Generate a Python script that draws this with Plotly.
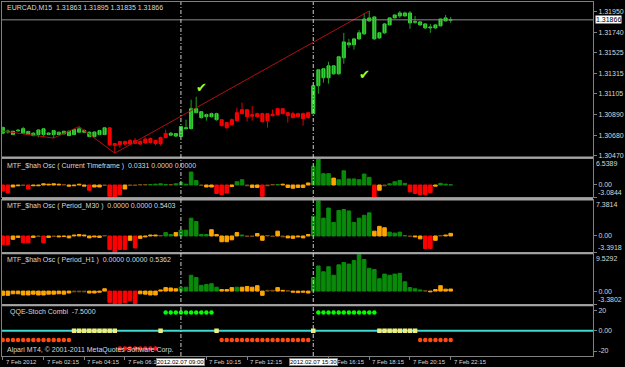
import plotly.graph_objects as go

# ---------------- data ----------------
symbol = "EURCAD,M15"

open_ = [
    1.30700, 1.30712, 1.30686, 1.30725, 1.30700, 1.30686, 1.30675, 1.30686, 1.30686, 1.30686,
    1.30686, 1.30686, 1.30693, 1.30675, 1.30686, 1.30710, 1.30710, 1.30665, 1.30665, 1.30686,
    1.30686, 1.30755, 1.30593, 1.30614, 1.30614, 1.30624, 1.30624, 1.30616, 1.30640, 1.30645,
    1.30624, 1.30655, 1.30696, 1.30680, 1.30670, 1.30665, 1.30747, 1.30747, 1.30911, 1.30860,
    1.30870, 1.30870, 1.30839, 1.30839, 1.30809, 1.30839, 1.30911, 1.30942, 1.30942, 1.30891,
    1.30901, 1.30901, 1.30901, 1.30895, 1.30952, 1.30952, 1.30911, 1.30901, 1.30901, 1.30901,
    1.30911, 1.30901, 1.31188, 1.31270, 1.31270, 1.31311, 1.31311, 1.31475, 1.31609, 1.31609,
    1.31670, 1.31722, 1.31855, 1.31670, 1.31680, 1.31732, 1.31814, 1.31886, 1.31906, 1.31906,
    1.31834, 1.31840, 1.31814, 1.31783, 1.31783, 1.31783, 1.31804, 1.31855, 1.31863]
high = [
    1.30765, 1.30737, 1.30725, 1.30745, 1.30765, 1.30725, 1.30710, 1.30740, 1.30750, 1.30710,
    1.30732, 1.30715, 1.30725, 1.30728, 1.30745, 1.30768, 1.30740, 1.30720, 1.30718, 1.30735,
    1.30765, 1.30765, 1.30600, 1.30620, 1.30624, 1.30640, 1.30650, 1.30625, 1.30650, 1.30655,
    1.30632, 1.30665, 1.30737, 1.30712, 1.30700, 1.30772, 1.30839, 1.31045, 1.31075, 1.30925,
    1.30901, 1.30911, 1.30911, 1.30845, 1.30815, 1.30850, 1.30962, 1.31014, 1.30950, 1.30980,
    1.30910, 1.30910, 1.30905, 1.30942, 1.30962, 1.30960, 1.30915, 1.30921, 1.30911, 1.30911,
    1.30921, 1.31195, 1.31360, 1.31370, 1.31435, 1.31400, 1.31495, 1.31732, 1.31670, 1.31680,
    1.31760, 1.31937, 1.31957, 1.31900, 1.31740, 1.31834, 1.31890, 1.31925, 1.31957, 1.31950,
    1.31957, 1.31906, 1.31855, 1.31830, 1.31824, 1.31820, 1.31880, 1.31916, 1.31895]
low = [
    1.30690, 1.30696, 1.30680, 1.30712, 1.30695, 1.30680, 1.30670, 1.30658, 1.30658, 1.30680,
    1.30650, 1.30680, 1.30688, 1.30670, 1.30680, 1.30705, 1.30700, 1.30660, 1.30655, 1.30680,
    1.30680, 1.30575, 1.30494, 1.30550, 1.30570, 1.30580, 1.30585, 1.30580, 1.30590, 1.30595,
    1.30575, 1.30573, 1.30645, 1.30670, 1.30660, 1.30660, 1.30737, 1.30740, 1.30905, 1.30850,
    1.30829, 1.30860, 1.30829, 1.30770, 1.30745, 1.30778, 1.30820, 1.30895, 1.30819, 1.30829,
    1.30860, 1.30810, 1.30757, 1.30875, 1.30885, 1.30895, 1.30809, 1.30855, 1.30865, 1.30778,
    1.30850, 1.30891, 1.31106, 1.31220, 1.31210, 1.31300, 1.31300, 1.31414, 1.31578, 1.31560,
    1.31660, 1.31710, 1.31845, 1.31660, 1.31670, 1.31722, 1.31810, 1.31880, 1.31886, 1.31900,
    1.31773, 1.31824, 1.31804, 1.31773, 1.31732, 1.31770, 1.31800, 1.31850, 1.31835]
close = [
    1.30760, 1.30722, 1.30720, 1.30732, 1.30747, 1.30718, 1.30700, 1.30733, 1.30745, 1.30702,
    1.30727, 1.30710, 1.30720, 1.30720, 1.30737, 1.30745, 1.30727, 1.30710, 1.30712, 1.30727,
    1.30755, 1.30580, 1.30575, 1.30583, 1.30588, 1.30588, 1.30596, 1.30588, 1.30600, 1.30604,
    1.30593, 1.30593, 1.30655, 1.30700, 1.30696, 1.30768, 1.30757, 1.30952, 1.30952, 1.30921,
    1.30891, 1.30901, 1.30901, 1.30778, 1.30757, 1.30788, 1.30829, 1.30901, 1.30870, 1.30875,
    1.30870, 1.30819, 1.30829, 1.30880, 1.30891, 1.30901, 1.30880, 1.30860, 1.30870, 1.30850,
    1.30860, 1.31188, 1.31352, 1.31363, 1.31393, 1.31393, 1.31486, 1.31639, 1.31629, 1.31670,
    1.31732, 1.31875, 1.31886, 1.31896, 1.31732, 1.31824, 1.31886, 1.31916, 1.31937, 1.31937,
    1.31937, 1.31848, 1.31845, 1.31824, 1.31793, 1.31814, 1.31875, 1.31886, 1.31866]

zigzag_bars = [0, 10, 15, 22, 72]
zigzag_prices = [1.30722, 1.30650, 1.30768, 1.30494, 1.31957]

signal_bars = [39, 71]
signal_prices = [1.31158, 1.31296]

price_ticks = [1.31950, 1.31740, 1.31525, 1.31315, 1.31105, 1.30890, 1.30680, 1.30470]
price_range = [1.304597, 1.320495]

# labels hidden under the 09:00 / 15:30 boxes in the reference are left out
time_tick_bars = [0, 8, 16, 24, 40, 48, 64, 72, 80, 88]
time_tick_labels = ["7 Feb 2012", "7 Feb 02:15", "7 Feb 04:15", "7 Feb 06:15",
                    "7 Feb 10:15", "7 Feb 12:15", "7 Feb 16:15", "7 Feb 18:15",
                    "7 Feb 20:15", "7 Feb 22:15"]

vline_bars = [35, 61]
vline_labels = ["2012.02.07 09:00", "2012.02.07 15:30"]

osc1_title = "MTF_$hah Osc ( Current Timeframe )  0.0331 0.0000 0.0000"
osc1_values = [
    -1.5, -2.0, -0.5, -0.2, -0.1, -1.0, -0.2, -0.2, 0.3, 0.2,
    0.3, 0.2, 0.1, -0.3, -0.2, 0.2, -0.3, -1.3, -0.5, -0.5,
    -0.1, -2.8, -3.0844, -2.4, -1.0, -0.1, -0.1, 0.1, 0.1, 0.1,
    0.2, 0.3, 0.1, 0.1, 0.3, 0.6, 0.2, 3.2, 1.1, -0.1,
    -0.5, -0.5, -2.1, -2.4, -2.0, -0.4, 0.8, 1.3, -0.2, -0.6,
    -0.6, -2.8, -0.2, 0.1, 0.1, 0.2, -0.6, -0.8, -0.6, -0.6,
    0.5, 4.6, 6.5389, 2.8, 2.8, 1.7, 1.3, 3.5, 1.5, 1.5,
    1.3, 2.7, 1.9, -3.0, -1.3, -0.2, 0.3, 0.8, 1.1, 0.4,
    -1.7, -2.1, -2.4, -2.4, -1.9, -0.3, 0.4, 0.2, 0.0331]
osc1_colors = ("RROOBROOOO" "OOBOOOOROO" "BRRROBBBBG" "GGGBGGGGGB" "OORRROGGBO"
               "ORBBGOOOOO" "OGGGGOGGGG" "GGGROBGGGG" "RRRRROGGG")

osc2_title = "MTF_$hah Osc ( Period_M30 )  0.0000 0.0000 0.5403"
osc2_values = [
    -1.8, -1.8, -0.7, -0.3, -1.4, -1.4, -0.3, -0.1, -1.4, -0.3,
    -0.1, -0.2, -0.1, -0.4, 0.2, 0.3, 0.2, -0.4, -0.2, -0.3,
    0.1, -2.8, -3.3918, -2.8, -2.8, -0.9, -2.5, -0.5, -0.2, 0.2,
    0.2, 0.1, 0.7, 0.3, 0.7, 1.2, 1.2, 3.7, 3.0, 0.3,
    0.3, 1.3, 0.3, -1.2, -1.2, -0.8, 0.7, 0.2, -0.1, -0.1,
    0.5, -0.9, 0.1, -0.1, 1.0, -0.2, -0.4, -0.5, -0.2, -0.4,
    0.3, 4.1, 7.3814, 3.7, 5.8, 2.8, 5.3, 5.5, 5.2, 2.8,
    3.7, 4.3, 4.8, 1.0, 2.0, 1.7, 0.8, 0.6, 0.8, 0.1,
    -0.1, -0.2, -0.6, -2.6, -2.6, -0.9, 0.1, 0.2, 0.5403]
osc2_colors = ("RROORROBRO" "BOOOOOOOOO" "BRRRROROOO" "OBGGOGGGGG" "GOOOOOOGBB"
               "OOBBOBOOOO" "OGGGGGGGGG" "GGGOOOGGGG" "BOORROBOO")

osc3_title = "MTF_$hah Osc ( Period_H1 )  0.0000 0.0000 0.5362"
osc3_values = [
    -1.1, -1.1, -0.7, -0.7, -1.0, -1.0, -0.8, -1.0, -1.0, -0.8,
    -0.8, -0.7, -0.8, -0.5, -0.2, -0.2, -0.2, -0.5, -0.5, -0.3,
    0.6, -2.9, -3.3802, -3.2, -3.0, -2.5, -3.2, -0.7, -0.8, -1.0,
    -1.0, 0.3, 0.9, 0.8, 0.6, 1.0, 1.0, 4.1, 3.5, 1.5,
    1.7, 1.9, 1.0, 0.4, 0.4, 0.9, 1.0, 1.0, 1.2, 1.0,
    1.4, -1.1, 0.2, 0.2, 0.9, 0.2, 0.1, -0.3, -0.4, -0.3,
    -0.5, 3.5, 6.5, 5.0, 6.3, 4.1, 6.8, 7.4, 7.0, 7.9,
    9.5292, 8.2, 5.9, 5.6, 3.2, 4.4, 4.1, 4.4, 4.6, 2.4,
    0.9, 0.6, 0.3, 0.1, -0.2, 0.4, 1.4, 0.5, 0.5362]
osc3_colors = ("OOOOOOOOOO" "OOOOBBBOOO" "ORRRRRROOO" "OOOOOGGGGG" "GGGOOOGOOO"
               "OOBBOOBOOO" "OGGGGGGGGG" "GGGGGGGGGG" "GGGBOOOOO")

qqe_title = "QQE-Stoch Combi  -7.5000"
qqe_state = ("OOOOOOOOOOOOOO" "YYYYYYYYY" "RRRRRRRR" "Y" "GGGGGGGGGG" "Y"
             "OOOOOOOOOOOOOOOOOO" "Y" "GGGGGGGGGGGG" "YYYYYYYY" "OOOOOOO")
qqe_levels = {"G": 18.0, "Y": 0.0, "O": -9.0, "R": -17.5}
qqe_ticks = [20, 0, -20]
qqe_range = [-24.9, 24.3]
copyright_text = "Alpari MT4, \u00a9 2001-2011 MetaQuotes Software Corp."

# ---------------- styling / geometry ----------------
FONT = "Liberation Sans, Arial, sans-serif"
FS = 7
FS_TIME = 6
TXT = "#d8d8d8"
FRAME = "#808080"
W, H = 625, 367
ML, MR, MT, MB = 1, 26, 1, 11
PW, PH = W - ML - MR, H - MT - MB
BOTTOM = H - MB
SP, X0 = 5.15, 1.8
xr = [(ML - X0) / SP, (ML - X0) / SP + PW / SP]


def dom(top, bot):
    return [(BOTTOM - bot) / PH, (BOTTOM - top) / PH]


def py(p):
    return (BOTTOM - p) / PH


panels = [(1, 156), (158, 197), (200, 252), (254, 304), (306, 356)]
osc_cmap = {"R": "#ff0000", "O": "#ffa500", "G": "#0a8a0a", "B": "#7a4e14"}

n = len(close)
bars = list(range(n))
fig = go.Figure()

# candles: wicks
for up, col in [(True, "#1f9f1f"), (False, "#e00000")]:
    xs, ys = [], []
    for i in bars:
        if (close[i] >= open_[i]) == up:
            xs += [i, i, None]
            ys += [low[i], high[i], None]
    fig.add_trace(go.Scatter(x=xs, y=ys, mode="lines", line=dict(color=col, width=1),
                             xaxis="x", yaxis="y", hoverinfo="skip"))
# candles: bodies
for up, col in [(True, "#36d636"), (False, "#ff0000")]:
    idx = [i for i in bars if (close[i] >= open_[i]) == up]
    fig.add_trace(go.Bar(x=idx, base=[min(open_[i], close[i]) for i in idx],
                         y=[abs(close[i] - open_[i]) for i in idx], width=0.6,
                         marker=dict(color=col, line=dict(color=col, width=1)),
                         xaxis="x", yaxis="y"))
# zigzag
fig.add_trace(go.Scatter(x=zigzag_bars, y=zigzag_prices, mode="lines",
                         line=dict(color="#b01010", width=1), xaxis="x", yaxis="y"))
# signal checks
fig.add_trace(go.Scatter(x=signal_bars, y=signal_prices, mode="text", text=["\u2714"] * len(signal_bars),
                         textfont=dict(color="#9cff20", size=13), xaxis="x", yaxis="y"))

# oscillators
for k, (vals, cols) in enumerate([(osc1_values, osc1_colors), (osc2_values, osc2_colors),
                                   (osc3_values, osc3_colors)], start=2):
    cc = [osc_cmap[c] for c in cols]
    fig.add_trace(go.Bar(x=bars, y=vals, width=0.7,
                         marker=dict(color=cc, line=dict(color=cc, width=1)),
                         xaxis="x%d" % k, yaxis="y%d" % k))

# QQE dots
for st, col, sym in [("G", "#00ff00", "circle"), ("Y", "#eeee80", "square"),
                     ("O", "#ff4a10", "circle"), ("R", "#ff1010", "circle")]:
    xs = [i for i in bars if qqe_state[i] == st]
    fig.add_trace(go.Scatter(x=xs, y=[qqe_levels[st]] * len(xs), mode="markers",
                             marker=dict(color=col, size=4.5, symbol=sym, line=dict(width=0)),
                             xaxis="x5", yaxis="y5"))

tf = dict(family=FONT, size=FS, color=TXT)

# axes
lay = {}
for k, (t, b) in enumerate(panels, start=1):
    sx = "" if k == 1 else str(k)
    lay["xaxis" + sx] = dict(domain=[0, 1], range=xr, anchor="y" + sx, showgrid=False, zeroline=False,
                             showticklabels=False, showline=True, linecolor=FRAME, linewidth=1,
                             mirror=True, ticks="", fixedrange=True)
    lay["yaxis" + sx] = dict(domain=dom(t, b), anchor="x" + sx, side="right", showgrid=False,
                             zeroline=False, showline=True, linecolor=FRAME, linewidth=1, mirror=True,
                             ticks="outside", ticklen=3, tickcolor=FRAME, tickfont=tf, fixedrange=True)
lay["xaxis5"].update(ticks="outside", tickvals=time_tick_bars, ticklen=3, tickcolor=FRAME)
lay["yaxis"].update(range=price_range, tickvals=price_ticks, ticktext=["%.5f" % v for v in price_ticks])

ann = []
for k, vals in [(2, osc1_values), (3, osc2_values), (4, osc3_values)]:
    lo, hi = min(vals), max(vals)
    lay["yaxis%d" % k].update(range=[lo, hi], tickvals=[0, lo], ticktext=["0.00", ""])
    t, b = panels[k - 1]
    ann.append(dict(text="%.4f" % hi, xref="paper", yref="paper", x=1, xshift=1, xanchor="left",
                    y=py(t), yanchor="top", yshift=1, showarrow=False, font=tf))
    ann.append(dict(text="%.4f" % lo, xref="paper", yref="paper", x=1, xshift=3, xanchor="left",
                    y=py(b), yanchor="bottom", yshift=-1, showarrow=False, font=tf))
lay["yaxis5"].update(range=qqe_range, tickvals=qqe_ticks,
                     ticktext=[("%.2f" % v if v == 0 else str(v)) for v in qqe_ticks])

shapes = []
# separators between panels
for (t1, b1), (t2, b2) in zip(panels[:-1], panels[1:]):
    shapes.append(dict(type="rect", xref="paper", yref="paper", x0=0, x1=1, y0=py(t2), y1=py(b1),
                       fillcolor="#a4a4a4", line=dict(width=0), layer="above"))
# current price line
shapes.append(dict(type="line", xref="x domain", yref="y", x0=0, x1=1, y0=close[-1], y1=close[-1],
                   line=dict(color="#8c8c8c", width=1)))
# QQE zero level
shapes.append(dict(type="line", xref="x5 domain", yref="y5", x0=0, x1=1, y0=0, y1=0,
                   line=dict(color="#40d8d0", width=2), layer="below"))
# vertical dashed lines
for b in vline_bars:
    shapes.append(dict(type="line", xref="x", yref="paper", x0=b, x1=b, y0=0, y1=1,
                       line=dict(color="#d0d0d0", width=1, dash="4px,2px,1px,2px"), layer="above"))

ann.append(dict(text="%s  %.5f %.5f %.5f %.5f" % (symbol, open_[-1], high[-1], low[-1], close[-1]),
                xref="paper", yref="paper", x=0, xshift=3, xanchor="left", y=py(7), yanchor="middle",
                showarrow=False, font=tf))
for title, ypx in [(osc1_title, 165), (osc2_title, 206), (osc3_title, 260)]:
    ann.append(dict(text=title, xref="paper", yref="paper", x=0, xshift=3, xanchor="left",
                    y=py(ypx), yanchor="middle", showarrow=False, font=tf))
ann.append(dict(text=qqe_title, xref="paper", yref="paper", x=0, xshift=6, xanchor="left",
                y=py(312), yanchor="middle", showarrow=False, font=tf))
ann.append(dict(text=copyright_text, xref="paper", yref="paper", x=0, xshift=3, xanchor="left",
                y=py(350), yanchor="middle", showarrow=False, font=tf))
for b, lbl in zip(time_tick_bars, time_tick_labels):
    ann.append(dict(text=lbl, xref="x5", yref="paper", x=b, xshift=1, xanchor="left",
                    y=py(362), yanchor="middle", showarrow=False,
                    font=dict(family=FONT, size=FS_TIME, color=TXT)))
for b, lbl in zip(vline_bars, vline_labels):
    ann.append(dict(text=lbl, xref="x5", yref="paper", x=b, xanchor="center", y=py(362),
                    yanchor="middle", showarrow=False, bgcolor="#ffffff", bordercolor="#808080",
                    borderwidth=1, borderpad=0, font=dict(family=FONT, size=FS_TIME, color="#000000")))
ann.append(dict(text="%.5f" % close[-1], xref="paper", yref="y", x=1, xshift=2, xanchor="left",
                y=close[-1], yanchor="middle", showarrow=False, bgcolor="#ffffff", borderpad=0,
                font=dict(family=FONT, size=FS, color="#000000")))

fig.update_layout(width=W, height=H, margin=dict(l=ML, r=MR, t=MT, b=MB, pad=0),
                  paper_bgcolor="#000000", plot_bgcolor="#000000", showlegend=False,
                  barmode="overlay", shapes=shapes, annotations=ann, **lay)
fig.write_html("out.html")
